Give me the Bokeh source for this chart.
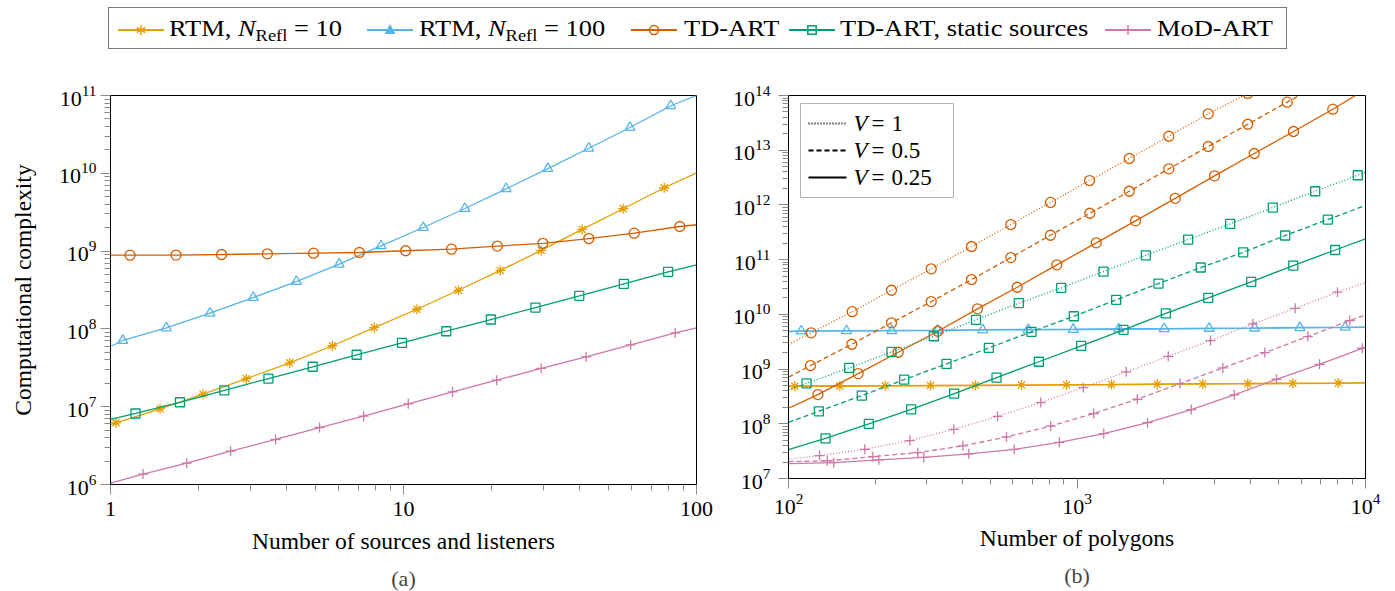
from bokeh.plotting import figure
from bokeh.models import (Range1d, FixedTicker, LogTickFormatter, BasicTickFormatter,
                          Title, Div, Label, Arrow, BoxAnnotation)
from bokeh.layouts import column, row
from bokeh.embed import file_html
from bokeh.resources import INLINE

# Okabe-Ito colours, one per method
C_RTM10 = "#E69F00"
C_RTM100 = "#56B4E9"
C_TDART = "#D55E00"
C_STATIC = "#009E73"
C_MODART = "#CC79A7"

# ---------------------------------------------------------------------------
# (a) complexity vs. number of sources and listeners
# first and last entries are the curve ends, the rest carry markers
a_rtm10_x = [1, 1.045, 1.476, 2.068, 2.907, 4.09, 5.72, 7.95, 11.12, 15.4, 21.4, 29.5, 40.7, 56.2, 77.6, 100]
a_rtm10_y = [5.90e6, 6.21e6, 9.40e6, 1.45e7, 2.29e7, 3.66e7, 6.07e7, 1.04e8, 1.79e8, 3.14e8,
             5.64e8, 1.02e9, 1.90e9, 3.50e9, 6.52e9, 1.01e10]

a_rtm100_x = [1, 1.101, 1.551, 2.185, 3.07, 4.31, 6.03, 8.38, 11.68, 16.2, 22.4, 31.1, 42.9, 59.3, 81.7, 100]
a_rtm100_y = [5.94e7, 7.10e7, 1.03e8, 1.59e8, 2.53e8, 4.06e8, 6.79e8, 1.17e9, 2.01e9, 3.53e9,
              6.32e9, 1.15e10, 2.10e10, 3.88e10, 7.38e10, 1.0e11]

a_tdart_x = [1, 1.166, 1.673, 2.394, 3.43, 4.93, 7.07, 10.17, 14.58, 20.9, 29.9, 42.9, 61.3, 87.7, 100]
a_tdart_y = [8.86e8, 8.86e8, 8.88e8, 9.04e8, 9.23e8, 9.40e8, 9.60e8, 1.01e9, 1.06e9, 1.16e9,
             1.26e9, 1.45e9, 1.70e9, 2.07e9, 2.18e9]

a_static_x = [1, 1.217, 1.726, 2.446, 3.46, 4.90, 6.92, 9.88, 13.99, 19.87, 28.2, 39.8, 56.5, 80.0, 100]
a_static_y = [6.86e6, 8.18e6, 1.14e7, 1.62e7, 2.30e7, 3.26e7, 4.65e7, 6.62e7, 9.33e7, 1.32e8,
              1.88e8, 2.66e8, 3.80e8, 5.42e8, 6.67e8]

a_modart_x = [1, 1.291, 1.82, 2.570, 3.66, 5.17, 7.31, 10.38, 14.70, 20.8, 29.5, 42.0, 59.6, 84.6, 100]
a_modart_y = [1.04e6, 1.36e6, 1.88e6, 2.68e6, 3.79e6, 5.40e6, 7.55e6, 1.09e7, 1.55e7, 2.19e7,
              3.10e7, 4.38e7, 6.25e7, 8.91e7, 1.03e8]

# ---------------------------------------------------------------------------
# (b) complexity vs. number of polygons, for three visibility ratios V
b_rtm10_x = [100, 105.2, 150.6, 216.3, 310.6, 444.8, 642.1, 919.6, 1317, 1897, 2730, 3908, 5598, 8043, 10000]
b_rtm10_y = [4.85e8, 4.87e8, 4.90e8, 4.95e8, 5.00e8, 5.05e8, 5.10e8, 5.15e8, 5.20e8, 5.30e8,
             5.35e8, 5.40e8, 5.50e8, 5.55e8, 5.60e8]

b_rtm100_x = [100, 110.7, 158.9, 228, 328.5, 471.5, 677.4, 970, 1396, 2006, 2872, 4124, 5921, 8504, 10000]
b_rtm100_y = [4.90e9, 4.95e9, 5.00e9, 5.05e9, 5.10e9, 5.20e9, 5.25e9, 5.30e9, 5.40e9, 5.45e9,
              5.55e9, 5.60e9, 5.70e9, 5.80e9, 5.85e9]

b_tdart_v1_x = [100, 119.8, 166.3, 227.5, 312.4, 430.9, 589.7, 809.3, 1105, 1517, 2081, 2850, 3908]
b_tdart_v1_y = [2.81e9, 4.59e9, 1.12e10, 2.76e10, 6.79e10, 1.74e11, 4.38e11, 1.11e12, 2.79e12,
                7.05e12, 1.80e13, 4.62e13, 1.09e14]
b_tdart_v05_x = [100, 119.2, 165.7, 227.5, 312.4, 430.9, 589.7, 809.3, 1108, 1517, 2081, 2850, 3908, 5353, 5900]
b_tdart_v05_y = [7.08e8, 1.16e9, 2.84e9, 7.00e9, 1.71e10, 4.33e10, 1.09e11, 2.79e11, 7.05e11,
                 1.78e12, 4.57e12, 1.17e13, 2.98e13, 7.55e13, 1.0e14]
b_tdart_v025_x = [100, 126.4, 174.4, 240.0, 329.2, 451.8, 620.3, 851.1, 1166, 1595, 2190, 2997, 4114, 5628, 7703, 9233]
b_tdart_v025_y = [1.92e8, 3.42e8, 8.28e8, 2.03e9, 4.91e9, 1.26e10, 3.13e10, 8.04e10, 2.03e11,
                  5.12e11, 1.32e12, 3.40e12, 8.71e12, 2.20e13, 5.62e13, 1.0e14]

b_static_v1_x = [100, 115.5, 162.3, 227.5, 318.9, 446.6, 628.4, 881.5, 1236, 1732, 2428, 3396, 4771, 6693, 9404, 10000]
b_static_v1_y = [4.17e8, 5.50e8, 1.05e9, 2.06e9, 3.98e9, 7.96e9, 1.60e10, 3.06e10, 6.05e10,
                 1.20e11, 2.33e11, 4.52e11, 8.96e11, 1.78e12, 3.49e12, 3.87e12]
b_static_v05_x = [100, 127.4, 179.5, 251.8, 352.9, 494.8, 695.5, 975, 1367, 1916, 2686, 3768, 5268, 7403, 10000]
b_static_v05_y = [1.06e8, 1.69e8, 3.28e8, 6.43e8, 1.24e9, 2.44e9, 4.79e9, 9.23e9, 1.84e10,
                  3.66e10, 7.18e10, 1.36e11, 2.76e11, 5.41e11, 9.75e11]
b_static_v025_x = [100, 134.4, 189.8, 266.2, 375.2, 526, 737.5, 1034, 1450, 2032, 2850, 4017, 5616, 7852, 10000]
b_static_v025_y = [3.38e7, 5.43e7, 9.96e7, 1.84e8, 3.57e8, 7.00e8, 1.36e9, 2.66e9, 5.21e9,
                   1.04e10, 2.00e10, 3.93e10, 7.80e10, 1.50e11, 2.40e11]

b_modart_v1_x = [100, 128.1, 183.9, 263.4, 374.1, 530.3, 749, 1051, 1481, 2071, 2902, 4068, 5705, 7998, 10000]
b_modart_v1_y = [2.26e7, 2.62e7, 3.42e7, 4.93e7, 7.93e7, 1.37e8, 2.44e8, 4.59e8, 8.89e8,
                 1.71e9, 3.32e9, 6.70e9, 1.29e10, 2.54e10, 3.86e10]
b_modart_v05_x = [100, 136.2, 196.0, 280.6, 402.0, 569.7, 810.7, 1143, 1618, 2275, 3202, 4477, 6310, 8823, 10000]
b_modart_v05_y = [2.04e7, 2.10e7, 2.51e7, 2.97e7, 3.95e7, 5.75e7, 9.08e7, 1.54e8, 2.81e8,
                  5.43e8, 1.05e9, 2.00e9, 3.93e9, 7.71e9, 9.79e9]
b_modart_v025_x = [100, 143.5, 205.6, 294.4, 421.7, 605.7, 868.5, 1238, 1756, 2488, 3507, 4915, 6927, 9741, 10000]
b_modart_v025_y = [1.87e7, 1.95e7, 2.19e7, 2.44e7, 2.82e7, 3.40e7, 4.59e7, 6.62e7, 1.05e8,
                   1.82e8, 3.38e8, 6.51e8, 1.22e9, 2.40e9, 2.52e9]

V_VALUES = ["1", "0.5", "0.25"]
DOTTED, DASHED, SOLID = "1 2", "5 3", "solid"

# method -> (colour, marker, marker size)
STYLE = {
    "rtm10": (C_RTM10, "asterisk", 10),
    "rtm100": (C_RTM100, "triangle", 10),
    "tdart": (C_TDART, "circle", 10),
    "static": (C_STATIC, "square", 9),
    "modart": (C_MODART, "cross", 10),
}

SERIF = "Liberation Serif"


def decade_ticks(lo, hi):
    major = [10.0 ** e for e in range(lo, hi + 1)]
    minor = [k * 10.0 ** e for e in range(lo, hi) for k in range(2, 10)]
    return FixedTicker(ticks=major, minor_ticks=minor)


def style_axes(p):
    p.grid.visible = False
    p.outline_line_color = "black"
    p.outline_line_width = 1
    p.outline_line_alpha = 1
    for ax in p.xaxis + p.yaxis:
        ax.axis_line_color = "black"
        ax.axis_line_width = 1
        ax.major_tick_line_color = "#8a8a8a"
        ax.minor_tick_line_color = "#8a8a8a"
        ax.major_tick_in = 0
        ax.major_tick_out = 10
        ax.minor_tick_in = 0
        ax.minor_tick_out = 6
        ax.major_label_text_font = SERIF
        ax.major_label_text_font_size = "22px"
        ax.major_label_text_color = "black"
        ax.axis_label_text_font = SERIF
        ax.axis_label_text_font_style = "normal"
        ax.axis_label_text_font_size = "23.5px"
        ax.axis_label_text_color = "black"


def draw(p, key, x, y, dash=SOLID, lw=1.3, first=1, last=-1):
    color, marker, size = STYLE[key]
    p.line(x, y, line_color=color, line_width=lw, line_dash=dash)
    mx = x[first:last] if last else x[first:]
    my = y[first:last] if last else y[first:]
    p.scatter(mx, my, marker=marker, size=size, line_color=color,
              fill_color=None, line_width=1.3)


# ---------------------------------------------------------------------------
# panel (a)
pa = figure(frame_width=586, frame_height=389,
            x_axis_type="log", y_axis_type="log",
            x_range=Range1d(1, 100), y_range=Range1d(1e6, 1e11),
            min_border_left=110, min_border_right=19,
            min_border_top=35, min_border_bottom=107,
            output_backend="svg", toolbar_location=None)
style_axes(pa)
pa.xaxis.ticker = decade_ticks(0, 2)
pa.xaxis.formatter = BasicTickFormatter(use_scientific=False)
pa.yaxis.ticker = decade_ticks(6, 11)
pa.yaxis.formatter = LogTickFormatter()
pa.xaxis.axis_label = "Number of sources and listeners"
pa.yaxis.axis_label = "Computational complexity"
pa.xaxis.major_label_standoff = 7
pa.yaxis.major_label_standoff = 4
pa.xaxis.axis_label_standoff = 9
pa.yaxis.axis_label_standoff = 20

draw(pa, "rtm10", a_rtm10_x, a_rtm10_y)
draw(pa, "rtm100", a_rtm100_x, a_rtm100_y)
draw(pa, "tdart", a_tdart_x, a_tdart_y)
draw(pa, "static", a_static_x, a_static_y)
draw(pa, "modart", a_modart_x, a_modart_y)

pa.add_layout(Title(text="(a)", align="center", text_font=SERIF, text_font_size="22px",
                    text_font_style="normal", standoff=14), "below")

# ---------------------------------------------------------------------------
# panel (b)
pb = figure(frame_width=577, frame_height=383,
            x_axis_type="log", y_axis_type="log",
            x_range=Range1d(100, 10000), y_range=Range1d(1e7, 1e14),
            min_border_left=73, min_border_right=30,
            min_border_top=35, min_border_bottom=113,
            output_backend="svg", toolbar_location=None)
style_axes(pb)
pb.xaxis.ticker = decade_ticks(2, 4)
pb.xaxis.formatter = LogTickFormatter()
pb.yaxis.ticker = decade_ticks(7, 14)
pb.yaxis.formatter = LogTickFormatter()
pb.xaxis.axis_label = "Number of polygons"
pb.xaxis.major_label_standoff = 5
pb.yaxis.major_label_standoff = 8
pb.xaxis.axis_label_standoff = 8

draw(pb, "rtm10", b_rtm10_x, b_rtm10_y, lw=1.8)
draw(pb, "rtm100", b_rtm100_x, b_rtm100_y, lw=1.8)
draw(pb, "tdart", b_tdart_v1_x, b_tdart_v1_y, dash=DOTTED, last=None)
draw(pb, "tdart", b_tdart_v05_x, b_tdart_v05_y, dash=DASHED)
draw(pb, "tdart", b_tdart_v025_x, b_tdart_v025_y)
draw(pb, "static", b_static_v1_x, b_static_v1_y, dash=DOTTED)
draw(pb, "static", b_static_v05_x, b_static_v05_y, dash=DASHED)
draw(pb, "static", b_static_v025_x, b_static_v025_y)
draw(pb, "modart", b_modart_v1_x, b_modart_v1_y, dash=DOTTED)
draw(pb, "modart", b_modart_v05_x, b_modart_v05_y, dash=DASHED)
draw(pb, "modart", b_modart_v025_x, b_modart_v025_y)

# line-style key for the visibility ratio, laid out in frame pixels
# (origin at the frame's bottom-left corner)
KEY_LEFT, KEY_RIGHT, KEY_BOTTOM, KEY_TOP = 12, 165, 281, 375
KEY_ROWS = [355, 328, 301]
pb.add_layout(BoxAnnotation(left=KEY_LEFT, right=KEY_RIGHT, bottom=KEY_BOTTOM, top=KEY_TOP,
                            left_units="screen", right_units="screen",
                            bottom_units="screen", top_units="screen",
                            fill_color="white", fill_alpha=1,
                            line_color="#b5b5b5", line_width=1, line_alpha=1))
for yrow, val, dash in zip(KEY_ROWS, V_VALUES, [DOTTED, DASHED, SOLID]):
    pb.add_layout(Arrow(end=None, x_start=20, y_start=yrow, x_end=58, y_end=yrow,
                        start_units="screen", end_units="screen",
                        line_color="black", line_width=1.8, line_dash=dash))
    pb.add_layout(Label(x=65, y=yrow, x_units="screen", y_units="screen", text="V",
                        text_font=SERIF, text_font_style="italic", text_font_size="23px",
                        text_baseline="middle", text_color="black"))
    pb.add_layout(Label(x=83, y=yrow, x_units="screen", y_units="screen", text="=",
                        text_font=SERIF, text_font_size="23px",
                        text_baseline="middle", text_color="black"))
    pb.add_layout(Label(x=103, y=yrow, x_units="screen", y_units="screen", text=val,
                        text_font=SERIF, text_font_size="23px",
                        text_baseline="middle", text_color="black"))

pb.add_layout(Title(text="(b)", align="center", text_font=SERIF, text_font_size="22px",
                    text_font_style="normal", standoff=14), "below")

# ---------------------------------------------------------------------------
# shared method legend across the top
methods = [
    ("rtm10", 'RTM, <i>N</i><sub style="font-size:16px;vertical-align:-5px">Refl</sub> = 10'),
    ("rtm100", 'RTM, <i>N</i><sub style="font-size:16px;vertical-align:-5px">Refl</sub> = 100'),
    ("tdart", "TD-ART"),
    ("static", "TD-ART, static sources"),
    ("modart", "MoD-ART"),
]
sample_left = [9, 258, 522, 680, 996]
text_left = [60, 310, 575, 731, 1048]


def sample_svg(key):
    color, marker, _ = STYLE[key]
    w, h, cx, cy = 46, 22, 23, 11
    s = [f'<line x1="0" y1="{cy}" x2="{w}" y2="{cy}" stroke="{color}" stroke-width="2"/>']
    if marker == "asterisk":
        for (dx, dy) in [(0, 5), (4.3, 2.5), (4.3, -2.5)]:
            s.append(f'<line x1="{cx-dx}" y1="{cy-dy}" x2="{cx+dx}" y2="{cy+dy}" '
                     f'stroke="{color}" stroke-width="1.5"/>')
    elif marker == "triangle":
        s.append(f'<polygon points="{cx},{cy-6} {cx-5.5},{cy+4} {cx+5.5},{cy+4}" fill="{color}"/>')
    elif marker == "circle":
        s.append(f'<circle cx="{cx}" cy="{cy}" r="4.5" fill="none" stroke="{color}" stroke-width="1.5"/>')
    elif marker == "square":
        s.append(f'<rect x="{cx-4.2}" y="{cy-4.2}" width="8.4" height="8.4" fill="none" '
                 f'stroke="{color}" stroke-width="1.5"/>')
    else:
        s.append(f'<line x1="{cx-5}" y1="{cy}" x2="{cx+5}" y2="{cy}" stroke="{color}" stroke-width="1.5"/>')
        s.append(f'<line x1="{cx}" y1="{cy-5}" x2="{cx}" y2="{cy+5}" stroke="{color}" stroke-width="1.5"/>')
    return f'<svg width="{w}" height="{h}" style="display:block">' + "".join(s) + "</svg>"


parts = []
for (key, label), sx, tx in zip(methods, sample_left, text_left):
    parts.append(f'<div style="position:absolute;left:{sx}px;top:11px">{sample_svg(key)}</div>')
    parts.append(f'<div style="position:absolute;left:{tx}px;top:6px;white-space:nowrap;'
                 f'transform:scaleX(1.15);transform-origin:left center;line-height:30px">{label}</div>')

legend_html = (
    '<div style="position:relative;width:1395px;height:60px;margin:0;padding:0">'
    '<div style="position:absolute;left:108px;top:7px;width:1179px;height:42px;'
    'border:1px solid #7a7a7a;background:white;font-family:\'Liberation Serif\';'
    'font-size:23px;color:black">'
    + "".join(parts) +
    '</div></div>'
)
top_legend = Div(text=legend_html, width=1395, height=60, margin=0)

layout = column(top_legend, row(pa, pb, spacing=0), spacing=0)

with open("out.html", "w") as fh:
    fh.write(file_html(layout, INLINE))
